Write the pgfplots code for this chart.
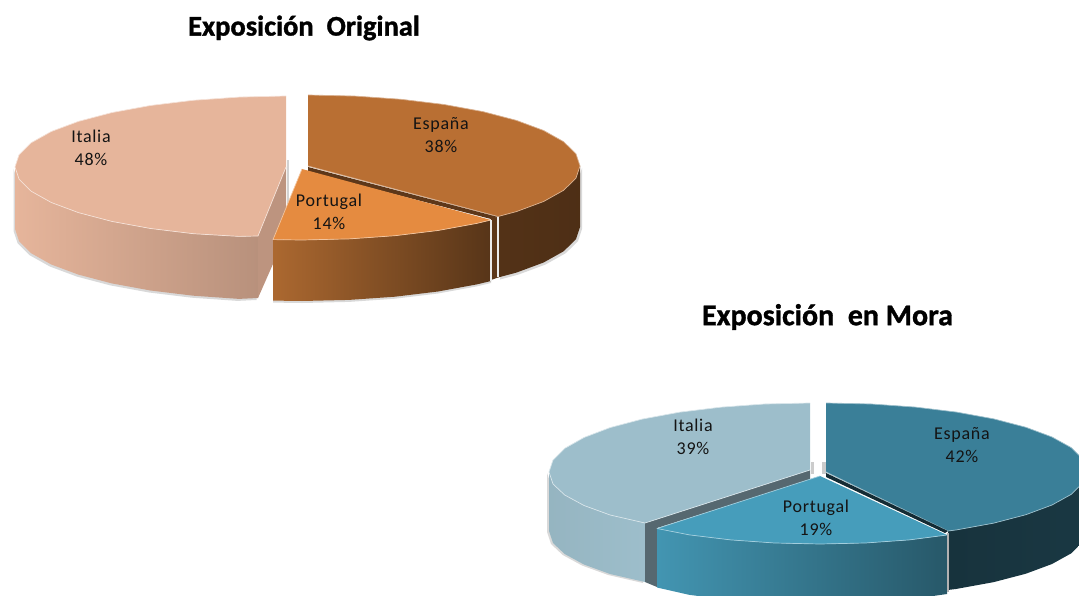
\documentclass[border=0pt]{standalone}
\usepackage{pgfplots}
\usepackage{pgfplotstable}
\usepackage{fontspec}
\pgfplotsset{compat=1.18}
\setmainfont{Carlito}
\newfontfamily\labfont[LetterSpace=4]{Carlito}
\newfontfamily\titfont[FakeBold=1.2]{Carlito Bold}

\tikzset{
    lab/.style={font=\labfont\fontsize{18}{23}\selectfont, align=center, text=black!92},
    tit/.style={font=\titfont\fontsize{#1}{32}\selectfont, text=black},
    edge/.style={draw=#1, line width=0.7pt},
}

% top pie, outlines in picture pixels
\pgfplotstableread{
x y
15 167
19.1 179.3
31.3 191.3
51.3 202.5
78.4 212.6
111.8 221.4
150.5 228.5
193.3 233.7
239 236.4
258 236
258 298
239 298.9
193.3 295.7
150.5 290.5
111.8 283.4
78.4 274.6
51.3 264.5
31.3 253.3
19.1 241.3
15 229
}\wallItaA
\pgfplotstableread{
x y
580 166
575.9 178.3
563.6 190.3
543.6 201.5
516.4 211.6
498 216.5
498 277.5
516.4 272.6
543.6 262.5
563.6 251.3
575.9 239.3
580 227
}\wallEspA
\pgfplotstableread{
x y
273 239.6
302 240
349.2 238.9
395 235.7
438 230.5
476.8 223.4
491 220
491 281
476.8 284.4
438 291.5
395 296.7
349.2 299.9
302 301
273 300.6
}\wallPorA
% lower pie
\pgfplotstableread{
x y
549 472
553 484
564.7 495
584 505.5
610.1 515
645 523
645 582
610.1 574
584 564.5
564.7 554
553 543
549 531
}\wallItaB
\pgfplotstableread{
x y
1087 471
1083 482.8
1071.3 494.3
1052 505
1025.9 514.7
993.8 523.1
956.5 529.9
948 531
948 590
956.5 588.9
993.8 582.1
1025.9 573.7
1052 564
1071.3 553.3
1083 541.8
1087 530
}\wallEspB
\pgfplotstableread{
x y
657 528.5
689.5 534.9
730.7 539.9
774.7 543
820 544
865.3 543
909.3 539.9
947 535
947 594
909.3 599.4
865.3 603
820 604
774.7 603
730.7 599.9
689.5 594.9
657 587.5
}\wallPorB

\definecolor{itaA}{HTML}{E6B59B}
\definecolor{espA}{HTML}{B96F33}
\definecolor{porA}{HTML}{E58B40}
\definecolor{itaB}{HTML}{9DBECB}
\definecolor{espB}{HTML}{3A7F98}
\definecolor{porB}{HTML}{469DBB}

\begin{document}
\begin{tikzpicture}
\path[use as bounding box] (0,0) rectangle (1079pt,596pt);
\begin{axis}[
    at={(0,0)}, anchor=south west,
    scale only axis,
    width=1079pt, height=596pt,
    xmin=0, xmax=1079, ymin=0, ymax=596,
    y dir=reverse,
    hide axis,
    no markers,
    clip=true,
    every axis plot/.append style={draw=none, line join=round},
]
% ---- Exposicion Original
\addplot[fill=gray!30, xshift=-1.5pt, yshift=-2pt] table {\wallItaA};
\addplot[fill=gray!35] coordinates {(287,160) (289,160) (289,232) (287,232)};
\addplot[left color=itaA, middle color=itaA!94!black, right color=itaA!80!black] table {\wallItaA};
\addplot[fill=itaA!82!black] coordinates {(286,167) (258,236) (258,298) (273,264) (286,232)};
\addplot[fill=itaA, edge=itaA!40!white] coordinates {
    (286,96) (239,97.1) (193.3,100.3) (150.5,105.5) (111.8,112.6) (78.4,121.4)
    (51.3,131.5) (31.3,142.7) (19.1,154.7) (15,167) (19.1,179.3) (31.3,191.3)
    (51.3,202.5) (78.4,212.6) (111.8,221.4) (150.5,228.5) (193.3,233.7)
    (239,236.4) (258,236) (286,167)};
\addplot[fill=gray!30, xshift=2pt, yshift=-2pt] table {\wallEspA};
\addplot[left color=espA!45!black, right color=espA!42!black] table {\wallEspA};
\addplot[fill=espA, edge=espA!55!white] coordinates {
    (308,95) (355.2,96.1) (401,99.3) (444,104.5) (482.8,111.6) (516.4,120.4)
    (543.6,130.5) (563.6,141.7) (575.9,153.7) (580,166) (575.9,178.3) (563.6,190.3)
    (543.6,201.5) (516.4,211.6) (498,216.5) (308,166)};
\addplot[fill=espA!50!black] coordinates {(308,167) (498,217) (491,219) (308,172)};
\addplot[fill=espA!50!black] coordinates {(491,218) (498,217) (498,277.5) (491,280)};
\addplot[draw=white!85!gray, line width=1.2pt] coordinates {(498,217) (498,277)};
\addplot[fill=gray!30, yshift=-2pt] table {\wallPorA};
\addplot[left color=porA!75!black, right color=porA!38!black] table {\wallPorA};
\addplot[fill=porA, edge=porA!50!white] coordinates {
    (302,169) (273,239.6) (302,240) (349.2,238.9) (395,235.7) (438,230.5)
    (476.8,223.4) (491,220)};
\addplot[draw=white!85!gray, line width=1.2pt] coordinates {(491,220) (491,281)};
\node[tit=28.5] at (axis cs:304,28) {Exposición\ \ Original};
\node[lab] at (axis cs:91,148) {Italia\\48\%};
\node[lab] at (axis cs:441,135) {España\\38\%};
\node[lab] at (axis cs:329,212) {Portugal\\14\%};

% ---- Exposicion en Mora
\addplot[fill=gray!30, xshift=-2pt, yshift=-1pt] table {\wallItaB};
\addplot[fill=gray!40] coordinates {(811,462) (814,462) (814,474) (811,474)};
\addplot[fill=gray!40] coordinates {(822,462) (826,462) (826,474) (822,474)};
\addplot[left color=itaB!95!black, right color=itaB] table {\wallItaB};
\addplot[fill=itaB!55!black] coordinates {(645,523) (810,470) (810,480) (657,528) (657,587) (645,582)};
\addplot[fill=itaB, edge=itaB!40!white] coordinates {
    (810,403) (764.7,404) (720.7,407.2) (679.5,412.2) (642.2,419.1) (610.1,427.6)
    (584,437.5) (564.7,448.4) (553,460) (549,472) (553,484) (564.7,495) (584,505.5)
    (610.1,515) (645,523) (810,470)};
\addplot[left color=espB!40!black, right color=espB!44!black] table {\wallEspB};
\addplot[fill=espB, edge=espB!50!white] coordinates {
    (826,403) (871.3,404) (915.3,407.1) (956.5,412.1) (993.8,418.9) (1025.9,427.3)
    (1052,437) (1071.3,447.7) (1083,459.2) (1087,471) (1083,482.8) (1071.3,494.3)
    (1052,505) (1025.9,514.7) (993.8,523.1) (956.5,529.9) (948,531) (826,472)};
\addplot[fill=espB!35!black] coordinates {(826,473) (948,531) (945,533) (826,477)};
\addplot[left color=porB!95!black, right color=porB!56!black] table {\wallPorB};
\addplot[fill=porB, edge=porB!50!white] coordinates {
    (820,476) (657,528.5) (689.5,534.9) (730.7,539.9) (774.7,543) (820,544)
    (865.3,543) (909.3,539.9) (947,535)};
\addplot[draw=gray!60!white, line width=1.2pt] coordinates {(948,533) (948,592)};
\node[tit=30] at (axis cs:827.5,317) {Exposición\ \ en Mora};
\node[lab] at (axis cs:693,437) {Italia\\39\%};
\node[lab] at (axis cs:962,445) {España\\42\%};
\node[lab] at (axis cs:816,518) {Portugal\\19\%};
\end{axis}
\end{tikzpicture}
\end{document}
